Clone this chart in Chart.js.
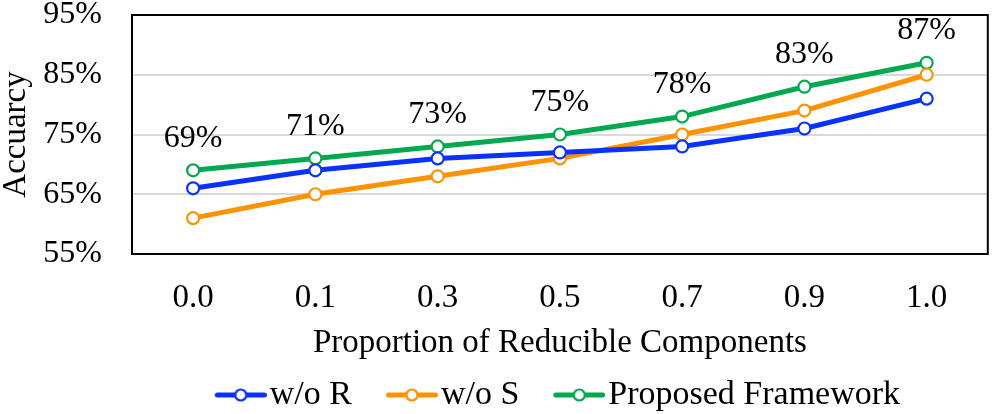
<!DOCTYPE html>
<html>
<head>
<meta charset="utf-8">
<script src="https://cdn.jsdelivr.net/npm/chart.js@4.4.1/dist/chart.umd.min.js"></script>
<style>
html,body{margin:0;padding:0;background:#fff;}
#wrap{width:996px;height:414px;}
</style>
</head>
<body>
<div id="wrap"><canvas id="c" width="996" height="414"></canvas></div>
<script>
const categories = ["0.0", "0.1", "0.3", "0.5", "0.7", "0.9", "1.0"];
const woR = [66, 69, 71, 72, 73, 76, 81];
const woS = [61, 65, 68, 71, 75, 79, 85];
const proposed = [69, 71, 73, 75, 78, 83, 87];
const seriesNames = ["w/o R", "w/o S", "Proposed Framework"];
const yTicks = [55, 65, 75, 85, 95];

const colors = ["#0A32FF", "#FF9200", "#00A94F"];
const FONT = "'Liberation Serif', 'Times New Roman', serif";

// legend icon: transparent lead-in, then line with hollow circle
function legendIcon(color) {
  const cv = document.createElement('canvas');
  cv.width = 96; cv.height = 16;
  const ctx = cv.getContext('2d');
  ctx.strokeStyle = color; ctx.lineWidth = 5; ctx.lineCap = 'round';
  ctx.beginPath(); ctx.moveTo(46.5, 8); ctx.lineTo(93.5, 8); ctx.stroke();
  ctx.beginPath(); ctx.arc(70, 8, 5.5, 0, Math.PI * 2);
  ctx.fillStyle = '#fff'; ctx.fill();
  ctx.lineWidth = 2.2; ctx.stroke();
  return cv;
}

const boxPlugin = {
  id: 'box',
  afterDraw(chart) {
    const {ctx, chartArea: a} = chart;
    ctx.save();
    ctx.strokeStyle = '#000'; ctx.lineWidth = 2;
    ctx.strokeRect(a.left, a.top, a.right - a.left, a.bottom - a.top);
    ctx.restore();
  }
};

const labelPlugin = {
  id: 'valLabels',
  afterDatasetsDraw(chart) {
    const {ctx} = chart;
    const meta = chart.getDatasetMeta(2);
    ctx.save();
    ctx.font = "32px " + FONT;
    ctx.fillStyle = '#000';
    ctx.textAlign = 'center';
    ctx.textBaseline = 'middle';
    meta.data.forEach((pt, i) => {
      ctx.fillText(proposed[i] + '%', pt.x, pt.y - 32);
    });
    ctx.restore();
  }
};

// nudge the legend row so it sits where the reference has it
const legendShift = {
  id: 'legendShift',
  afterLayout(chart) {
    if (chart.legend) { chart.legend.left -= 35; chart.legend.top += 8; }
  }
};

const icons = colors.map(legendIcon);

const datasets = [woR, woS, proposed].map((d, i) => ({
  label: seriesNames[i],
  data: d,
  borderColor: colors[i],
  backgroundColor: '#fff',
  borderWidth: 5,
  pointRadius: 6,
  pointHoverRadius: 6,
  pointBorderWidth: 2.2,
  pointBackgroundColor: '#fff',
  pointBorderColor: colors[i],
  tension: 0
}));

new Chart(document.getElementById('c'), {
  type: 'line',
  data: { labels: categories, datasets },
  options: {
    responsive: false,
    animation: false,
    devicePixelRatio: 1,
    layout: { padding: { top: 0, right: 0, left: 0, bottom: 0 } },
    scales: {
      x: {
        offset: true,
        grid: { display: false, drawTicks: false },
        border: { display: false },
        ticks: { color: '#000', font: { family: FONT, size: 33 }, padding: 25 },
        title: { display: true, text: 'Proportion of Reducible Components', color: '#000',
                 font: { family: FONT, size: 33 }, padding: { top: 4, bottom: 3 } },
        afterFit(axis) { axis.height = 112; axis.paddingLeft = 0; axis.paddingRight = 0; }
      },
      y: {
        min: 55, max: 95,
        afterBuildTicks(axis) { axis.ticks = yTicks.map(v => ({ value: v })); },
        grid: { color: '#D9D9D9', lineWidth: 2, drawTicks: false },
        border: { display: false },
        ticks: { color: '#000', font: { family: FONT, size: 32 }, padding: 30,
                 callback: v => v + '%' },
        title: { display: true, text: 'Accuarcy', color: '#000',
                 font: { family: FONT, size: 33, lineHeight: 1 }, padding: { top: 0, bottom: 10 } },
        afterFit(axis) { axis.width = 132; axis.paddingTop = 15; axis.paddingBottom = 0; }
      }
    },
    plugins: {
      tooltip: { enabled: false },
      legend: {
        position: 'bottom',
        fullSize: false,
        labels: {
          usePointStyle: true,
          pointStyleWidth: 68,
          color: '#000',
          font: { family: FONT, size: 34, lineHeight: 1 },
          padding: 4,
          generateLabels(chart) {
            return chart.data.datasets.map((ds, i) => ({
              text: ds.label,
              pointStyle: icons[i],
              fillStyle: '#fff',
              strokeStyle: ds.borderColor,
              lineWidth: 0,
              hidden: false,
              datasetIndex: i,
              fontColor: '#000'
            }));
          }
        }
      }
    }
  },
  plugins: [boxPlugin, labelPlugin, legendShift]
});
</script>
</body>
</html>
